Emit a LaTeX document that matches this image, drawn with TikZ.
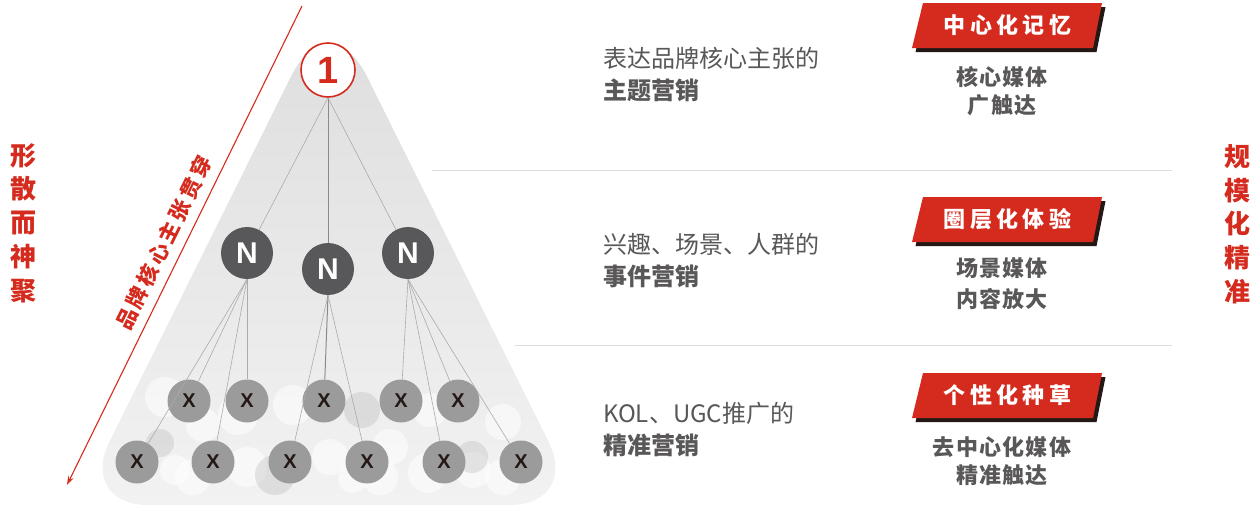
\documentclass[tikz,border=0pt]{standalone}
\usepackage{fontspec}
\setmainfont{Liberation Sans}
\newfontfamily\cjk{Noto Sans CJK SC}
\usetikzlibrary{arrows.meta}
\definecolor{brandred}{HTML}{D52B1E}
\definecolor{txtgray}{HTML}{595757}
\definecolor{ngray}{HTML}{58585A}
\definecolor{xgray}{HTML}{9B9B9B}
\definecolor{xtext}{HTML}{231815}
\definecolor{shadowc}{HTML}{231815}
\definecolor{linkgray}{HTML}{ABABAB}
\definecolor{mainlinkc}{HTML}{8A8A8A}
\definecolor{divgray}{HTML}{DCDCDC}
\definecolor{pyrtop}{HTML}{DDDDDD}
\definecolor{pyrbot}{HTML}{F2F2F2}
\newcommand\lsp[2]{\def\lsgap{#1}\lsA#2\relax}
\def\lsA#1{\ifx#1\relax\unkern\else#1\kern\lsgap\expandafter\lsA\fi}
\newcommand\mybanner[3]{%
  \fill[shadowc] (926.5,#1+7) -- (1105.5,#1+7) -- (1096.5,#1+52) -- (915.5,#1+52) -- cycle;
  \fill[brandred] (923,#1+3) -- (1102,#1+3) -- (1093,#1+48) -- (912,#1+48) -- cycle;
  \node[bannertext] (#2) at (1007.5,#1+25.5) {\lsp{4.5pt}{#3}};
}
\begin{document}
\begin{tikzpicture}[x=1pt,y=-1pt,
  onenode/.style={circle, draw=brandred, line width=1.6pt, fill=white, minimum size=54pt, inner sep=0pt, text=brandred, font=\fontsize{38}{38}\selectfont\bfseries},
  nnode/.style={circle, fill=ngray, minimum size=52pt, inner sep=0pt, text=white, font=\fontsize{30}{30}\selectfont\bfseries},
  xnode/.style={circle, fill=xgray, minimum size=43pt, inner sep=0pt, text=xtext, font=\fontsize{20}{20}\selectfont\bfseries},
  link/.style={draw=linkgray, line width=0.6pt},
  mainlink/.style={draw=mainlinkc, line width=1pt},
  divider/.style={draw=divgray, line width=1pt},
  sidetext/.style={text=brandred, font=\cjk\bfseries\fontsize{26}{33.7}\selectfont, align=center, inner sep=0pt},
  desc/.style={anchor=west, text=txtgray, font=\cjk\fontsize{24}{28}\selectfont, inner sep=0pt},
  descb/.style={anchor=west, text=txtgray, font=\cjk\bfseries\fontsize{24}{28}\selectfont, inner sep=0pt},
  bannertext/.style={text=white, font=\cjk\bfseries\fontsize{22}{22}\selectfont, inner sep=0pt},
  subtext/.style={text=txtgray, font=\cjk\bfseries\fontsize{22}{#1}\selectfont, align=center, inner sep=0pt},
  whitebub/.style={fill=white, opacity=0.55},
  graybub/.style={fill=black!30, opacity=0.3}
]
\useasboundingbox (0,0) rectangle (1258,506);

% pyramid background
\shade[top color=pyrtop, bottom color=pyrbot]
  (329,505) [rounded corners=70pt] -- (580,505) [rounded corners=85pt] -- (329,0) [rounded corners=70pt] -- (78,505) [sharp corners] -- cycle;

% bubbles
\fill[whitebub] (165,397) circle (20);
\fill[whitebub] (203,425) circle (17);
\fill[whitebub] (238,415) circle (20);
\fill[whitebub] (293,405) circle (20);
\fill[whitebub] (430,410) circle (17);
\fill[whitebub] (503,422) circle (18);
\fill[whitebub] (175,470) circle (15);
\fill[whitebub] (193,477) circle (18);
\fill[whitebub] (247,467) circle (20);
\fill[whitebub] (330,457) circle (18);
\fill[whitebub] (353,478) circle (15);
\fill[whitebub] (390,447) circle (18);
\fill[whitebub] (380,477) circle (18);
\fill[whitebub] (428,473) circle (20);
\fill[whitebub] (473,470) circle (18);
\fill[whitebub] (503,477) circle (18);
\fill[graybub] (160,443) circle (14);
\fill[graybub] (362,410) circle (18);
\fill[graybub] (275,475) circle (20);
\fill[graybub] (472,457) circle (16);

% dividers
\draw[divider] (432,170) -- (1172,170);
\draw[divider] (515,345) -- (1172,345);

% nodes
\node[onenode] (one) at (328,70) {1};
\node[nnode] (n1) at (247,253) {N};
\node[nnode] (n2) at (328,269) {N};
\node[nnode] (n3) at (408,253) {N};
\node[xnode] (a1) at (189,401) {X};
\node[xnode] (a2) at (247,401) {X};
\node[xnode] (a3) at (324,401) {X};
\node[xnode] (a4) at (401,401) {X};
\node[xnode] (a5) at (458,401) {X};
\node[xnode] (b1) at (137,462) {X};
\node[xnode] (b2) at (213,462) {X};
\node[xnode] (b3) at (290,462) {X};
\node[xnode] (b4) at (367,462) {X};
\node[xnode] (b5) at (444,462) {X};
\node[xnode] (b6) at (521,462) {X};

% connectors
\draw[link] (one.south) -- (n1);
\draw[mainlink] (one.south) -- (n2);
\draw[link] (one.south) -- (n3);
\draw[link] (n1.south) -- (b1);
\draw[link] (n1.south) -- (a1);
\draw[link] (n1.south) -- (b2);
\draw[link] (n1.south) -- (a2);
\draw[link] (n2.south) -- (b3);
\draw[mainlink] (n2.south) -- (a3);
\draw[link] (n2.south) -- (b4);
\draw[link] (n3.south) -- (a4);
\draw[link] (n3.south) -- (b5);
\draw[link] (n3.south) -- (a5);
\draw[link] (n3.south) -- (b6);

% axis arrow and label
\coordinate (axtop) at (302,6);
\coordinate (axbot) at (67,485);
\draw[brandred, line width=1.1pt, -{Stealth[length=9pt, width=6pt]}] (axtop) -- (axbot);
\node[rotate=63.8, text=brandred, font=\cjk\bfseries\fontsize{21}{21}\selectfont, inner sep=0pt] (axislabel) at (164,243) {\lsp{3.2pt}{品牌核心主张贯穿}};

% side texts
\node[sidetext] (lefttitle) at (23,223) {形\\散\\而\\神\\聚};
\node[sidetext] (righttitle) at (1237,224) {规\\模\\化\\精\\准};

% descriptions
\node[desc] (d1a) at (603,58) {表达品牌核心主张的};
\node[descb] (d1b) at (603,90) {主题营销};
\node[desc] (d2a) at (603,244) {兴趣、场景、人群的};
\node[descb] (d2b) at (603,276) {事件营销};
\node[desc] (d3a) at (603,413) {KOL、UGC推广的};
\node[descb] (d3b) at (603,445) {精准营销};

% banners
\mybanner{0}{ban1}{中心化记忆}
\mybanner{194}{ban2}{圈层化体验}
\mybanner{370}{ban3}{个性化种草}

\node[subtext=28] (s1) at (1002,91) {\lsp{1.3pt}{核心媒体}\\\lsp{1.3pt}{广触达}};
\node[subtext=31] (s2) at (1002,283.5) {\lsp{1.3pt}{场景媒体}\\\lsp{1.3pt}{内容放大}};
\node[subtext=28] (s3) at (1002,461) {\lsp{1.3pt}{去中心化媒体}\\\lsp{1.3pt}{精准触达}};
\end{tikzpicture}
\end{document}
